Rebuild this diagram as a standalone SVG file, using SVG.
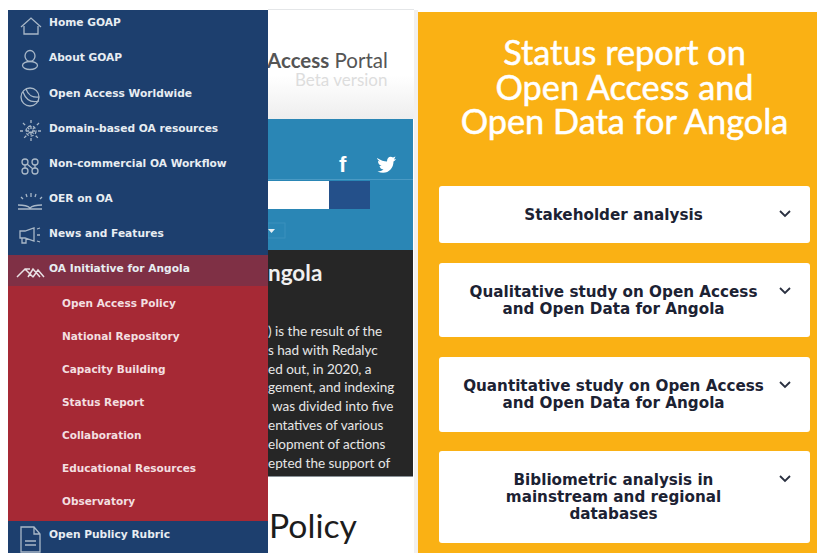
<svg xmlns="http://www.w3.org/2000/svg" width="817" height="553" viewBox="0 0 817 553">
<style>
.m{font:bold 10.65px "DejaVu Sans",sans-serif;fill:#e8edf2}
.s{font:bold 10.5px "DejaVu Sans",sans-serif;fill:#f3dfe0}
.i{fill:none;stroke:#a9b8c8;stroke-width:1.3}
.b{font:bold 15.2px "DejaVu Sans",sans-serif;fill:#1c2233;text-anchor:middle}
.c{fill:none;stroke:#2a3040;stroke-width:1.8}
.d{font:13.5px Lato,"Liberation Sans",sans-serif;fill:#e6e6e6}
.t{font:34.300px Lato,"Liberation Sans",sans-serif;fill:#fff;stroke:#fff;stroke-width:.5;text-anchor:middle}
.card{fill:#fff}
</style>
<defs><linearGradient id="hg" x1="0" y1="0" x2="0" y2="1"><stop offset="0.6" stop-color="#fff"/><stop offset="1" stop-color="#eeeeee"/></linearGradient></defs>
<rect width="817" height="553" fill="#fff"/>
<g id="portal">
<rect x="268" y="10" width="146" height="109" fill="url(#hg)"/>
<rect x="268" y="9" width="146" height="1" fill="#e4e6e8"/>
<text x="267" y="68" font-family="Lato,'Liberation Sans',sans-serif" font-size="20.500" fill="#555"><tspan font-weight="bold">Access</tspan> Portal</text>
<text x="295" y="86" font-family="Lato,'Liberation Sans',sans-serif" font-size="17" fill="#ddd">Beta version</text>
<rect x="268" y="119" width="145" height="131" fill="#2a86b5"/>
<rect x="268" y="179" width="145" height="1" fill="#4a9ac4"/>
<rect x="268" y="181" width="61" height="28" fill="#fff"/>
<rect x="329" y="181" width="41" height="28" fill="#24508a"/>
<rect x="268" y="223" width="17" height="15" fill="none" stroke="#3a90bd"/>
<path d="M268 229h7l-3.500 4z" fill="#e8f0f5"/>
<text x="339" y="172" font-family="'Liberation Sans',sans-serif" font-size="22" font-weight="bold" fill="#fff">f</text>
<path d="M377 158c4 2.500 7 3.500 10 3.500 0-4 3-6 6-4l2.500-1-1.500 3 2-.5c-.5 1-1.500 2-2.500 2.500 0 8-7 14-16 10 2.500 0 4.500-1 6-2-3-.5-3.500-2-4-3.500h2c-2.500-1-3.500-3-3.500-5l2 .5c-2-1.500-3-2.500-3-3.500z" fill="#fff"/>
<rect x="268" y="250" width="145" height="226" fill="#262626"/>
<rect x="268" y="476" width="145" height="1" fill="#8a9298"/>
<text x="268" y="281" font-family="Lato,'Liberation Sans',sans-serif" font-size="22.500" font-weight="bold" fill="#f0f0f0">ngola</text>
<text class="d" x="268" y="336">) is the result of the</text>
<text class="d" x="268" y="355">s had with Redalyc</text>
<text class="d" x="268" y="374">ed out, in 2020, a</text>
<text class="d" x="268" y="392">gement, and indexing</text>
<text class="d" x="272" y="411">was divided into five</text>
<text class="d" x="268" y="430">entatives of various</text>
<text class="d" x="268" y="449">elopment of actions</text>
<text class="d" x="268" y="468">epted the support of</text>
<text x="269" y="538" font-family="Lato,'Liberation Sans',sans-serif" font-size="33.700" fill="#1c1c1c">Policy</text>
</g>
<g id="menu">
<rect x="8" y="10" width="260" height="245" fill="#1d3f6e"/>
<rect x="8" y="255" width="260" height="31" fill="#7f3045"/>
<rect x="8" y="286" width="260" height="235" fill="#a62935"/>
<rect x="8" y="521" width="260" height="32" fill="#1d3f6e"/>
</g>
<g id="item-home"><path class="i" d="M21 27 31 18l10 9M24 26v8h14v-8"/><text class="m" x="49" y="26">Home GOAP</text></g>
<g id="item-about"><ellipse class="i" stroke-width="1.800" cx="30" cy="56" rx="5" ry="5.500"/><ellipse class="i" stroke-width="1.800" cx="30" cy="65.500" rx="7.500" ry="4"/><text class="m" x="49" y="61">About GOAP</text></g>
<g id="item-worldwide"><circle class="i" cx="30" cy="97" r="9"/><path class="i" d="M23 92c3 8 9 11 16 9M26 89c2 6 7 9 13 8"/><text class="m" x="49" y="97">Open Access Worldwide</text></g>
<g id="item-domain"><circle class="i" cx="31" cy="131" r="5" stroke-dasharray="3 2"/><path class="i" stroke-width="2.500" stroke-dasharray="3 3" d="M20 131h22M31 120v22M23 123l16 16M39 123l-16 16"/><text class="m" x="49" y="132">Domain-based OA resources</text></g>
<g id="item-workflow"><circle class="i" cx="25" cy="162" r="3"/><circle class="i" cx="35" cy="162" r="3"/><circle class="i" cx="25" cy="171" r="3"/><circle class="i" cx="35" cy="171" r="3"/><path class="i" d="M25 165v3M35 165v3M27 164l6 5"/><text class="m" x="49" y="167">Non-commercial OA Workflow</text></g>
<g id="item-oer"><path class="i" d="M18 205c6 0 10 1 12 3 2-2 6-3 12-3M18 209h24M21 197l2 2M26 194l1 3M31 193v4M36 194l-1 3M42 197l-2 2"/><text class="m" x="49" y="202">OER on OA</text></g>
<g id="item-news"><path class="i" d="M20 231h5l9-3v13l-9-3h-5zM22 238v5h4v-5M37 229l3-1M37 235h3M37 241l3 1"/><text class="m" x="49" y="237">News and Features</text></g>
<g id="item-angola"><path fill="none" stroke="#e8e0e4" stroke-width="1.500" d="M17 277l8-8 8 8M25 269l5 0M28 277l5-8 7 8M33 277l5-7 6 7"/><text class="m" x="49" y="272">OA Initiative for Angola</text></g>
<g id="sub-policy"><text class="s" x="62" y="307">Open Access Policy</text></g>
<g id="sub-repository"><text class="s" x="62" y="340">National Repository</text></g>
<g id="sub-capacity"><text class="s" x="62" y="373">Capacity Building</text></g>
<g id="sub-status"><text class="s" x="62" y="406">Status Report</text></g>
<g id="sub-collab"><text class="s" x="62" y="439">Collaboration</text></g>
<g id="sub-edu"><text class="s" x="62" y="472">Educational Resources</text></g>
<g id="sub-obs"><text class="s" x="62" y="505">Observatory</text></g>
<g id="item-rubric"><path class="i" d="M21 527h13l6 7v18H21zM34 527v7h6M25 541h11M25 545h11"/><text class="m" x="49" y="538">Open Publicy Rubric</text></g>
<g id="status-panel">
<rect x="414" y="10" width="4" height="543" fill="#f2f0ee"/>
<rect x="418" y="12" width="399" height="541" fill="#fab114"/>
<text class="t" x="624.500" y="65">Status report on</text>
<text class="t" x="624.500" y="100">Open Access and</text>
<text class="t" x="624.500" y="134">Open Data for Angola</text>
</g>
<g id="card-stakeholder"><rect class="card" x="439" y="186" width="371" height="57" rx="3"/><text class="b" x="613.500" y="219.500">Stakeholder analysis</text><path class="c" d="M780 211l5 5 5-5"/></g>
<g id="card-qualitative"><rect class="card" x="439" y="263" width="371" height="74" rx="3"/><text class="b" x="613.500" y="296.500">Qualitative study on Open Access</text><text class="b" x="613.500" y="314">and Open Data for Angola</text><path class="c" d="M780 288l5 5 5-5"/></g>
<g id="card-quantitative"><rect class="card" x="439" y="357" width="371" height="75" rx="3"/><text class="b" x="613.500" y="391">Quantitative study on Open Access</text><text class="b" x="613.500" y="408">and Open Data for Angola</text><path class="c" d="M780 382l5 5 5-5"/></g>
<g id="card-bibliometric"><rect class="card" x="439" y="451" width="371" height="92" rx="3"/><text class="b" x="613.500" y="485">Bibliometric analysis in</text><text class="b" x="613.500" y="502">mainstream and regional</text><text class="b" x="613.500" y="519">databases</text><path class="c" d="M780 476l5 5 5-5"/></g>
<g id="connectors"/>
</svg>
